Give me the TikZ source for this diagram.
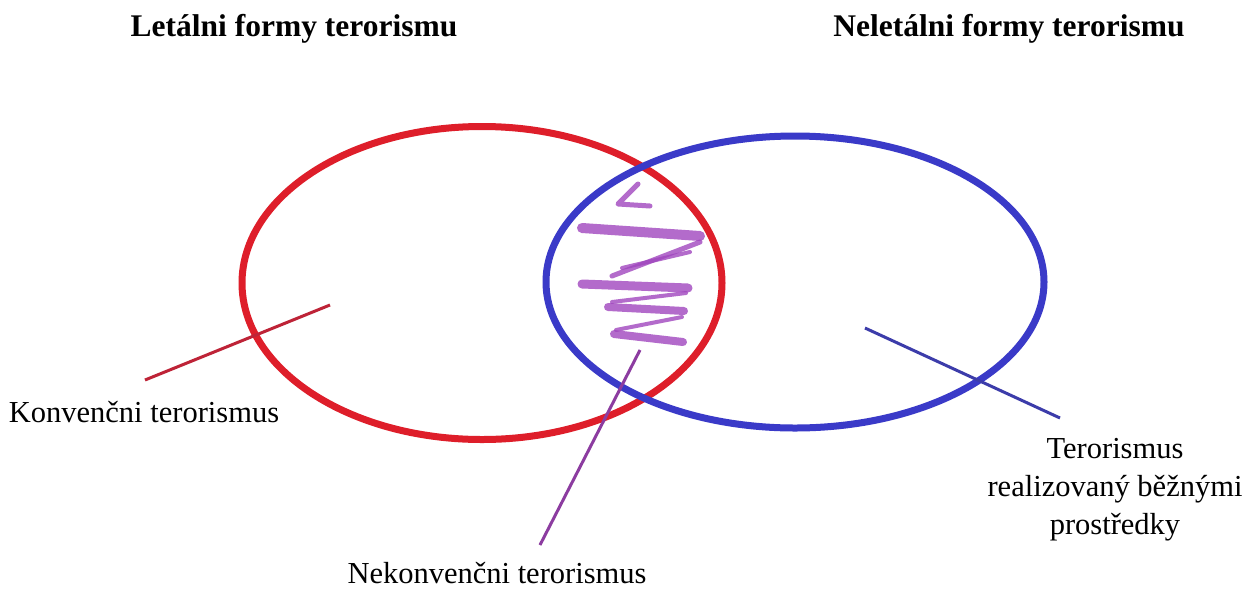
\documentclass[tikz,border=0pt]{standalone}
\usepackage{fontspec}
\setmainfont{Liberation Serif}
\usetikzlibrary{shapes.geometric}
\begin{document}
\begin{tikzpicture}[x=1pt,y=-1pt,
  title/.style={font=\fontsize{31.5}{36}\selectfont\bfseries, inner sep=0pt},
  label/.style={font=\fontsize{30.5}{38}\selectfont, inner sep=0pt, align=center},
  ring/.style={line width=7pt},
  pointer/.style={line width=3pt},
  crayon/.style={scrib, opacity=0.8, line cap=round, line join=round}]
\definecolor{cred}{RGB}{222,30,42}
\definecolor{cblue}{RGB}{58,58,200}
\definecolor{lred}{RGB}{190,35,55}
\definecolor{lblue}{RGB}{60,60,170}
\definecolor{lpurp}{RGB}{140,60,160}
\definecolor{scrib}{RGB}{160,70,190}
\useasboundingbox[fill=white] (0,0) rectangle (1248,590);

\node[title] (tl) at (294,29) {Letálni formy terorismu};
\node[title] (tr) at (1009,29) {Neletálni formy terorismu};

\node[draw=cred, ring, ellipse, minimum width=480pt, minimum height=313pt, inner sep=0pt] (le) at (482,283) {};
\node[draw=cblue, ring, ellipse, minimum width=498pt, minimum height=292pt, inner sep=0pt] (re) at (795,282) {};

% scribble
\draw[crayon, line width=5pt] (638,184) -- (618,204) -- (650,206);
\draw[crayon, line width=10pt] (582,228) -- (700,236);
\draw[crayon, line width=5pt] (700,242) -- (612,276);
\draw[crayon, line width=4pt] (690,252) -- (622,268);
\draw[crayon, line width=9pt] (582,284) -- (688,288);
\draw[crayon, line width=4pt] (686,293) -- (612,302);
\draw[crayon, line width=8pt] (608,307) -- (684,311);
\draw[crayon, line width=4pt] (682,317) -- (616,330);
\draw[crayon, line width=8pt] (614,334) -- (683,342);

\node[label] (kon) at (144,412) {Konvenčni terorismus};
\node[label] (nek) at (497,573) {Nekonvenčni terorismus};
\node[label] (bez) at (1115,490) {Terorismus\\realizovaný běžnými\\prostředky};

\coordinate (kp) at (330,305);
\coordinate (kq) at (145,380);
\coordinate (np) at (640,350);
\coordinate (nq) at (540,545);
\coordinate (bp) at (865,328);
\coordinate (bq) at (1060,418);
\draw[lred, pointer] (kp) -- (kq);
\draw[lpurp, pointer] (np) -- (nq);
\draw[lblue, pointer] (bp) -- (bq);
\end{tikzpicture}
\end{document}
